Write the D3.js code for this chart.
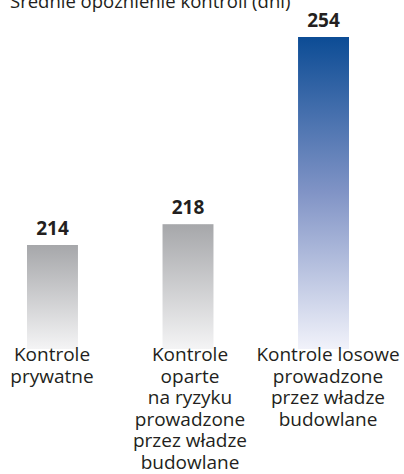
<!DOCTYPE html>
<html lang="pl">
<head>
<meta charset="utf-8">
<title>Średnie opóźnienie kontroli</title>
<script src="https://cdn.jsdelivr.net/npm/d3@7"></script>
<style>
  body { margin: 0; background: #fff; }
  svg { display: block; font-family: "Open Sans", sans-serif; }
</style>
</head>
<body>
<script>
var w = 404, h = 474;

// data
var categories = ["prywatne", "ryzyko", "losowe"];
var values = [214, 218, 254];
var labelLines = [
  ["Kontrole", "prywatne"],
  ["Kontrole", "oparte", "na ryzyku", "prowadzone", "przez władze", "budowlane"],
  ["Kontrole losowe", "prowadzone", "przez władze", "budowlane"]
];
var gradIds = ["gGrey", "gGrey", "gBlue"];
var title = "Średnie opóźnienie kontroli (dni)";

var svg = d3.select("body").append("svg")
  .attr("width", w)
  .attr("height", h);

var defs = svg.append("defs");

function grad(id, stops) {
  var g = defs.append("linearGradient")
    .attr("id", id)
    .attr("x1", 0).attr("y1", 0).attr("x2", 0).attr("y2", 1);
  g.selectAll("stop").data(stops).enter().append("stop")
    .attr("offset", function(d) { return d[0]; })
    .attr("stop-color", function(d) { return d[1]; });
}
grad("gGrey", [[0, "#a6a7aa"], [1, "#f4f4f5"]]);
grad("gBlue", [[0, "#0c4c95"], [0.5, "#8194c6"], [1, "#f1f2fa"]]);

var x = d3.scaleBand()
  .domain(categories)
  .range([27, 349])
  .paddingInner(0.624)
  .paddingOuter(0);

var xl = d3.scalePoint()
  .domain(categories)
  .range([52, 328]);

var y = d3.scaleLinear()
  .domain([194, 254])
  .range([349, 37]);

// title (cut off at top in original)
svg.append("text")
  .attr("x", 10)
  .attr("y", 8)
  .attr("font-size", 18.5)
  .attr("fill", "#231f20")
  .text(title);

var bars = svg.selectAll(".bar")
  .data(categories)
  .enter().append("g");

bars.append("rect")
  .attr("x", function(d) { return x(d); })
  .attr("y", function(d, i) { return y(values[i]); })
  .attr("width", x.bandwidth())
  .attr("height", function(d, i) { return y(194) - y(values[i]); })
  .attr("fill", function(d, i) { return "url(#" + gradIds[i] + ")"; });

bars.append("text")
  .attr("x", function(d) { return x(d) + x.bandwidth() / 2; })
  .attr("y", function(d, i) { return y(values[i]) - 10; })
  .attr("text-anchor", "middle")
  .attr("font-size", 19)
  .attr("font-weight", "bold")
  .attr("fill", "#231f20")
  .text(function(d, i) { return values[i]; });

var lbl = bars.append("text")
  .attr("text-anchor", "middle")
  .attr("font-size", 19)
  .attr("fill", "#231f20");

lbl.selectAll("tspan")
  .data(function(d, i) { return labelLines[i].map(function(t) { return {t: t, c: d}; }); })
  .enter().append("tspan")
  .attr("x", function(d) { return xl(d.c); })
  .attr("y", function(d, j) { return 361 + j * 21.5; })
  .text(function(d) { return d.t; });
</script>
</body>
</html>
